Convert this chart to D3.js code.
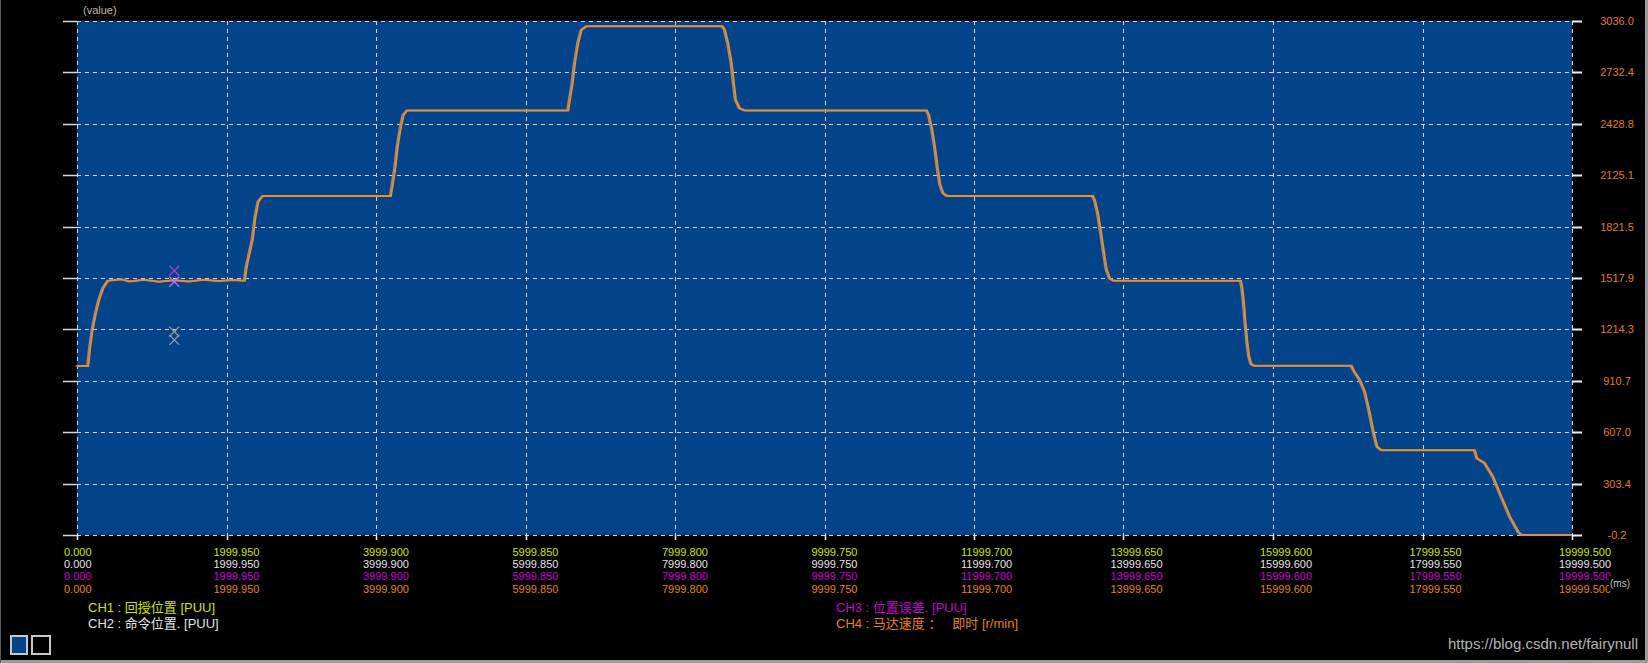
<!DOCTYPE html>
<html>
<head>
<meta charset="utf-8">
<script src="https://cdn.jsdelivr.net/npm/d3@7"></script>
<style>
  html, body { margin: 0; padding: 0; background: #000; }
  svg { display: block; }
  text { font-family: "Liberation Sans", Arial, sans-serif; }
  .cjk { font-family: "Liberation Sans", "Noto Sans CJK SC", sans-serif; white-space: pre; }
</style>
</head>
<body>
<svg id="chart" width="1648" height="663"></svg>
<script>
// ---------- data ----------
const xTickValues = [0, 1999.95, 3999.9, 5999.85, 7999.8, 9999.75, 11999.7, 13999.65, 15999.6, 17999.55, 19999.5];
const yTickValues = [-0.2, 303.4, 607.0, 910.7, 1214.3, 1517.9, 1821.5, 2125.1, 2428.8, 2732.4, 3036.0];
const yTickLabels = ["-0.2", "303.4", "607.0", "910.7", "1214.3", "1517.9", "1821.5", "2125.1", "2428.8", "2732.4", "3036.0"];

// CH4 motor speed (r/min) vs time (ms)
const speedTime = [
  0, 151, 174, 210, 254, 298, 352, 419,
  600, 700, 900, 1100, 1300, 1500, 1700, 1900, 2100,
  2247, 2270, 2291, 2351, 2390, 2430, 2490,
  4200, 4225, 4260, 4290, 4330, 4370, 4420,
  6573, 6595, 6631, 6662, 6706, 6752, 6819,
  8638, 8669, 8713, 8759, 8789, 8816, 8870, 8937,
  11371, 11400, 11440, 11480, 11515, 11550, 11590, 11640,
  13592, 13620, 13660, 13700, 13740, 13775, 13820, 13870,
  15572, 15590, 15610, 15630, 15655, 15680, 15710, 15750,
  17053, 17084, 17165, 17232, 17288, 17342, 17395, 17454,
  18702, 18733, 18836, 18947, 19038, 19172, 19282, 19327, 19999.5
];
const speedValue = [
  998, 998, 1093, 1211, 1309, 1388, 1457, 1502,
  1510, 1497, 1508, 1496, 1505, 1497, 1508, 1500, 1506,
  1502, 1580, 1624, 1742, 1880, 1970, 2003,
  2003, 2070, 2170, 2290, 2400, 2480, 2508,
  2508, 2569, 2668, 2786, 2904, 2983, 3005,
  3005, 2983, 2904, 2786, 2668, 2569, 2520, 2508,
  2508, 2480, 2400, 2290, 2170, 2070, 2020, 2003,
  2003, 1975, 1900, 1790, 1670, 1570, 1515, 1502,
  1502, 1460, 1380, 1270, 1150, 1060, 1010, 1000,
  1000, 970, 916, 846, 738, 620, 522, 500,
  500, 453, 424, 344, 246, 108, 20, 0, 0
];

// cursor markers
const markerTime = [1302, 1302, 1302, 1302];
const markerValue = [1561, 1496, 1201, 1152];
const markerColor = ["#b040c8", "#c070ff", "#a8a890", "#a0a0a0"];

// channel colours & legend
const channelColor = ["#d2e000", "#e4e4e4", "#c800d0", "#e8820e"];
const legendText = [
  "CH1 : 回授位置 [PUU]",
  "CH2 : 命令位置. [PUU]",
  "CH3 : 位置误差. [PUU]",
  "CH4 : 马达速度 ：   即时 [r/min]"
];

// ---------- layout ----------
const svg = d3.select("#chart");
const L = 77, R = 1572, T = 21, B = 535;
const x = d3.scaleLinear().domain([0, 19999.5]).range([L, R]);
const y = d3.scaleLinear().domain([-0.2, 3036.0]).range([B, T]);

// frame borders
svg.append("rect").attr("x", 0).attr("y", 0).attr("width", 1648).attr("height", 663).attr("fill", "#000");
svg.append("rect").attr("x", 0).attr("y", 660).attr("width", 1648).attr("height", 3).attr("fill", "#9a9a9a");
svg.append("rect").attr("x", 1645).attr("y", 0).attr("width", 3).attr("height", 663).attr("fill", "#9a9a9a");
svg.append("rect").attr("x", 0).attr("y", 0).attr("width", 1).attr("height", 663).attr("fill", "#5a5a5a");

// plot background
svg.append("rect").attr("x", L).attr("y", T).attr("width", R - L).attr("height", B - T).attr("fill", "#02438a");

// grid
const grid = svg.append("g").attr("stroke", "#c9d6ea").attr("stroke-width", 1).attr("stroke-dasharray", "4,4");
grid.selectAll("line.h").data(yTickValues).join("line")
  .attr("x1", L).attr("x2", R)
  .attr("y1", d => Math.round(y(d)) + 0.5).attr("y2", d => Math.round(y(d)) + 0.5);
grid.selectAll("line.v").data(xTickValues).join("line")
  .attr("y1", T).attr("y2", B)
  .attr("x1", d => Math.round(x(d)) + 0.5).attr("x2", d => Math.round(x(d)) + 0.5);

// left tick stubs
svg.append("g").selectAll("line").data(yTickValues).join("line")
  .attr("x1", 63).attr("x2", L)
  .attr("y1", d => Math.round(y(d)) + 0.5).attr("y2", d => Math.round(y(d)) + 0.5)
  .attr("stroke", "#d8d8d8").attr("stroke-width", 1.5);
// right tick stubs
svg.append("g").selectAll("line").data(yTickValues).join("line")
  .attr("x1", R).attr("x2", 1582)
  .attr("y1", d => Math.round(y(d)) + 0.5).attr("y2", d => Math.round(y(d)) + 0.5)
  .attr("stroke", "#eeeeee").attr("stroke-width", 2);
// bottom tick stubs
svg.append("g").selectAll("line").data(xTickValues).join("line")
  .attr("x1", d => Math.round(x(d)) + 0.5).attr("x2", d => Math.round(x(d)) + 0.5)
  .attr("y1", B).attr("y2", B + 5)
  .attr("stroke", "#eeeeee").attr("stroke-width", 1.5);

// right axis labels
svg.append("g").selectAll("text").data(yTickValues).join("text")
  .attr("x", 1617).attr("y", d => y(d) + 4)
  .attr("text-anchor", "middle").attr("font-size", 11).attr("fill", "#e07c14")
  .text((d, i) => yTickLabels[i]);

// x labels: four rows
const rowY = [556, 568, 580, 593];
channelColor.forEach((c, r) => {
  svg.append("g").selectAll("text").data(xTickValues).join("text")
    .attr("x", d => x(d) - 13).attr("y", rowY[r])
    .attr("font-size", 11).attr("fill", c)
    .text(d => d.toFixed(3));
});

// (ms) label
svg.append("rect").attr("x", 1609).attr("y", 576).attr("width", 24).attr("height", 15).attr("fill", "#000");
svg.append("text").attr("x", 1610).attr("y", 587).attr("font-size", 10).attr("fill", "#c4c4c4").text("(ms)");

// (value) label
svg.append("text").attr("x", 83).attr("y", 14).attr("font-size", 11).attr("fill", "#c2baa8").text("(value)");

// series
const pts = speedTime.map((t, i) => [t, speedValue[i]]);
const line = d3.line().x(d => x(d[0])).y(d => y(d[1]));
svg.append("path").datum(pts).attr("d", line)
  .attr("fill", "none").attr("stroke", "#8c8c8c").attr("stroke-width", 1.5)
  .attr("transform", "translate(-1.5,0)");
svg.append("path").datum(pts).attr("d", line)
  .attr("fill", "none").attr("stroke", "#f08c28").attr("stroke-width", 2);

// markers (X)
const mk = svg.append("g");
markerTime.forEach((t, i) => {
  const cx = x(t), cy = y(markerValue[i]), s = 5;
  mk.append("path")
    .attr("d", `M${cx - s},${cy - s}L${cx + s},${cy + s}M${cx - s},${cy + s}L${cx + s},${cy - s}`)
    .attr("stroke", markerColor[i]).attr("stroke-width", 1.2).attr("fill", "none");
});

// legend
const legendPos = [[88, 612], [88, 628], [836, 612], [836, 628]];
legendText.forEach((t, i) => {
  svg.append("text").attr("class", "cjk")
    .attr("x", legendPos[i][0]).attr("y", legendPos[i][1])
    .attr("font-size", 13).attr("fill", channelColor[i]).text(t);
});

// bottom-left icons
svg.append("rect").attr("x", 11).attr("y", 636).attr("width", 16).attr("height", 18)
  .attr("fill", "#02438a").attr("stroke", "#c8c8c8").attr("stroke-width", 2);
svg.append("rect").attr("x", 32).attr("y", 636).attr("width", 18).attr("height", 18)
  .attr("fill", "#000").attr("stroke", "#c8c8c8").attr("stroke-width", 2);

// watermark
svg.append("text").attr("x", 1638).attr("y", 649).attr("text-anchor", "end")
  .attr("font-size", 15).attr("fill", "#b4b4b4").text("https://blog.csdn.net/fairynull");
</script>
</body>
</html>
